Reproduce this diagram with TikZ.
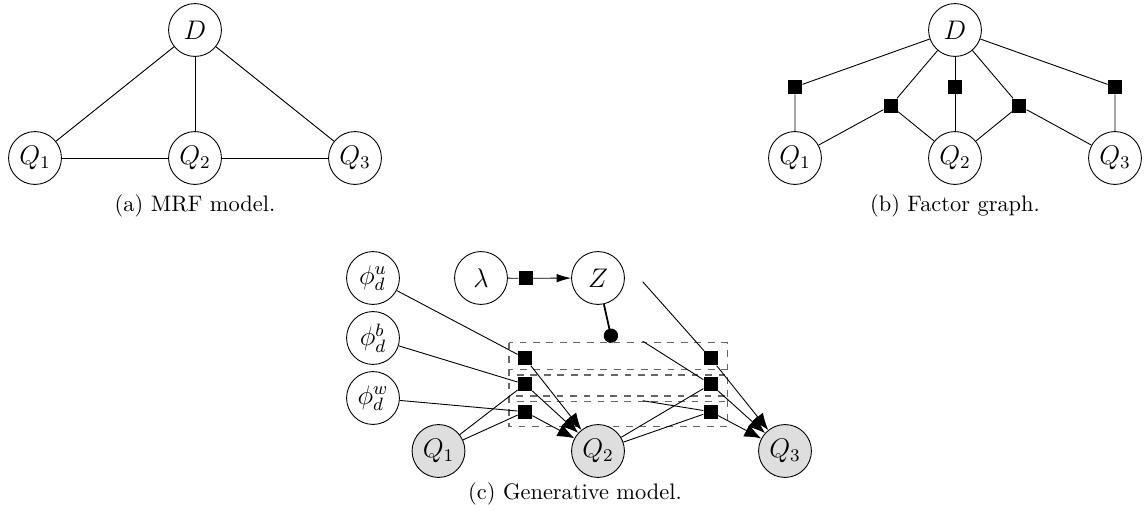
\documentclass[tikz,border=0pt]{standalone}
\usetikzlibrary{arrows.meta}
\tikzset{
  var/.style={circle,draw,minimum size=23.6pt,inner sep=0pt,font=\fontsize{11.5pt}{14pt}\selectfont},
  obs/.style={var,fill=black!13},
  fac/.style={rectangle,fill=black,minimum size=6.2pt,inner sep=0pt},
  plate/.style={draw=black!60,dashed,line width=0.5pt},
  bigarrow/.style={-{Latex[length=7.5pt,width=6pt]}},
  smallarrow/.style={-{Latex[length=6.5pt,width=3.8pt]}},
  gatearrow/.style={line width=0.8pt,-{Circle[length=6.4pt]}},
  caption/.style={anchor=base,inner sep=0pt}
}
\begin{document}
\begin{tikzpicture}[x=0.4464pt,y=-0.4464pt]
\useasboundingbox (0,0) rectangle (1144,510);
% (a) MRF model
\node[var] (aD) at (195,30) {$D$};
\node[var] (aQ1) at (35,158) {$Q_1$};
\node[var] (aQ2) at (195,158) {$Q_2$};
\node[var] (aQ3) at (355,158) {$Q_3$};
\draw (aD) -- (aQ1);
\draw (aD) -- (aQ2);
\draw (aD) -- (aQ3);
\draw (aQ1) -- (aQ2);
\draw (aQ2) -- (aQ3);
\node[caption] (acap) at (195,211.5) {(a) MRF model.};
% (b) Factor graph
\node[var] (bD) at (955,30) {$D$};
\node[var] (bQ1) at (795,158) {$Q_1$};
\node[var] (bQ2) at (955,158) {$Q_2$};
\node[var] (bQ3) at (1115,158) {$Q_3$};
\node[fac] (bf1) at (795,87) {};
\node[fac] (bf2) at (890.7,105.7) {};
\node[fac] (bf3) at (955,87) {};
\node[fac] (bf4) at (1019.3,105.7) {};
\node[fac] (bf5) at (1115,87) {};
\draw (bD) -- (bf1) -- (bQ1);
\draw (bD) -- (bf2) -- (bQ1);
\draw (bf2) -- (bQ2);
\draw (bD) -- (bf3) -- (bQ2);
\draw (bD) -- (bf4) -- (bQ2);
\draw (bf4) -- (bQ3);
\draw (bD) -- (bf5) -- (bQ3);
\node[caption] (bcap) at (955,211.5) {(b) Factor graph.};
% (c) Generative model
\draw[plate] (509,342.7) rectangle (727.3,375);
\draw[plate] (509,369.3) rectangle (727.3,401.7);
\draw[plate] (509,396) rectangle (727.3,426.7);
\node[var] (phiu) at (373,278) {$\phi_d^u$};
\node[var] (phib) at (373,338) {$\phi_d^b$};
\node[var] (phiw) at (373,398) {$\phi_d^w$};
\node[var] (lam) at (481,278) {$\lambda$};
\node[var] (Z) at (598,278) {$Z$};
\node[fac] (fz) at (525.7,278.3) {};
\node[obs] (cQ1) at (438.5,451) {$Q_1$};
\node[obs] (cQ2) at (598,451) {$Q_2$};
\node[obs] (cQ3) at (785,451) {$Q_3$};
\node[fac] (fl1) at (525,358.3) {};
\node[fac] (fl2) at (525,384.3) {};
\node[fac] (fl3) at (525,411.7) {};
\node[fac] (fr1) at (710.7,358.3) {};
\node[fac] (fr2) at (710.7,384.3) {};
\node[fac] (fr3) at (710.7,411.7) {};
\coordinate (gate) at (612.5,342.7);
\coordinate (s1) at (642.7,281.7);
\coordinate (s2) at (642.7,341.2);
\coordinate (s3) at (642.7,400.7);
\draw (lam) -- (fz);
\draw[smallarrow] (fz) -- (Z);
\draw[gatearrow] (Z) -- (gate);
\draw (phiu) -- (fl1);
\draw (phib) -- (fl2);
\draw (phiw) -- (fl3);
\draw (cQ1) -- (fl2);
\draw (cQ1) -- (fl3);
\draw[bigarrow] (fl1) -- (cQ2);
\draw[bigarrow] (fl2) -- (cQ2);
\draw[bigarrow] (fl3) -- (cQ2);
\draw (cQ2) -- (fr2);
\draw (cQ2) -- (fr3);
\draw (s1) -- (fr1);
\draw (s2) -- (fr2);
\draw (s3) -- (fr3);
\draw[bigarrow] (fr1) -- (cQ3);
\draw[bigarrow] (fr2) -- (cQ3);
\draw[bigarrow] (fr3) -- (cQ3);
\node[caption] (ccap) at (575,499.3) {(c) Generative model.};
\end{tikzpicture}
\end{document}
